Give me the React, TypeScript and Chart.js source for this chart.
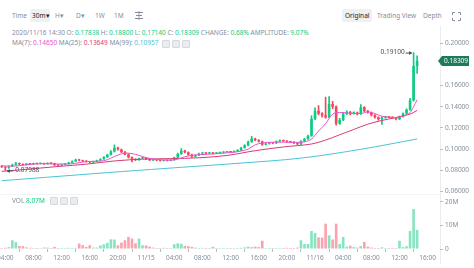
import React, { useEffect, useRef } from 'react';
import { Chart, registerables } from 'chart.js';

Chart.register(...registerables);

// ---- categories: 30-minute slots starting 2020/11/14 03:30 ----
const START_DAY = 14;
const START_MINUTE = 3 * 60 + 30;
const SLOT_MINUTES = 30;
const SLOT_COUNT = 125;
const pad2 = (n: number) => (n < 10 ? '0' + n : '' + n);
const timeLabels: string[] = [];
for (let k = 0; k < SLOT_COUNT; k++) {
  const t = START_MINUTE + k * SLOT_MINUTES;
  const d = START_DAY + Math.floor(t / 1440);
  const m = t % 1440;
  timeLabels.push(`11/${d} ${pad2(Math.floor(m / 60))}:${pad2(m % 60)}`);
}

// ---- candle data ----
const opens = [
  0.0840, 0.0830, 0.0824, 0.0838, 0.0852, 0.0866, 0.0858, 0.0851, 0.0862, 0.0858,
  0.0864, 0.0861, 0.0866, 0.0859, 0.0868, 0.0865, 0.0850, 0.0846, 0.0855, 0.0861,
  0.0872, 0.0885, 0.0900, 0.0893, 0.0886, 0.0882, 0.0876, 0.0884, 0.0892, 0.0905,
  0.0924, 0.0946, 0.0978, 0.1012, 0.0996, 0.0972, 0.0950, 0.0922, 0.0905, 0.0898,
  0.0912, 0.0918, 0.0906, 0.0895, 0.0898, 0.0893, 0.0890, 0.0894, 0.0892, 0.0897,
  0.0920, 0.0955, 0.0985, 0.0970, 0.0948, 0.0930, 0.0942, 0.0958, 0.0963, 0.0960,
  0.0966, 0.0958, 0.0964, 0.0967, 0.0972, 0.0976, 0.0973, 0.0979, 0.0990, 0.1012,
  0.1035, 0.1068, 0.1098, 0.1085, 0.1072, 0.1042, 0.1050, 0.1058, 0.1055, 0.1072,
  0.1082, 0.1076, 0.1070, 0.1066, 0.1058, 0.1046, 0.1075, 0.1095, 0.1125, 0.1285,
  0.1360, 0.1335, 0.1318, 0.1300, 0.1425, 0.1400, 0.1240, 0.1275, 0.1335, 0.1350,
  0.1338, 0.1345, 0.1330, 0.1395, 0.1360, 0.1345, 0.1320, 0.1300, 0.1282, 0.1298,
  0.1305, 0.1302, 0.1296, 0.1282, 0.1305, 0.1335, 0.1372, 0.1460, 0.17838,
];
const closes = [
  0.0830, 0.0824, 0.0838, 0.0852, 0.0866, 0.0858, 0.0851, 0.0862, 0.0858, 0.0864,
  0.0861, 0.0866, 0.0859, 0.0868, 0.0865, 0.0850, 0.0846, 0.0855, 0.0861, 0.0872,
  0.0885, 0.0900, 0.0893, 0.0886, 0.0882, 0.0876, 0.0884, 0.0892, 0.0905, 0.0924,
  0.0946, 0.0978, 0.1012, 0.0996, 0.0972, 0.0950, 0.0922, 0.0905, 0.0898, 0.0912,
  0.0918, 0.0906, 0.0895, 0.0898, 0.0893, 0.0890, 0.0894, 0.0892, 0.0897, 0.0920,
  0.0955, 0.0985, 0.0970, 0.0948, 0.0930, 0.0942, 0.0958, 0.0963, 0.0960, 0.0966,
  0.0958, 0.0964, 0.0967, 0.0972, 0.0976, 0.0973, 0.0979, 0.0990, 0.1012, 0.1035,
  0.1068, 0.1098, 0.1085, 0.1072, 0.1042, 0.1050, 0.1058, 0.1055, 0.1072, 0.1082,
  0.1076, 0.1070, 0.1066, 0.1058, 0.1046, 0.1075, 0.1095, 0.1125, 0.1285, 0.1360,
  0.1335, 0.1318, 0.1300, 0.1425, 0.1400, 0.1240, 0.1275, 0.1335, 0.1350, 0.1338,
  0.1345, 0.1330, 0.1395, 0.1360, 0.1345, 0.1320, 0.1300, 0.1282, 0.1298, 0.1305,
  0.1302, 0.1296, 0.1282, 0.1305, 0.1335, 0.1372, 0.1460, 0.17838, 0.18309,
];
const highs = [
  0.0845, 0.0834, 0.0842, 0.0858, 0.0874, 0.0870, 0.0862, 0.0866, 0.0866, 0.0868,
  0.0867, 0.0870, 0.0869, 0.0872, 0.0871, 0.0867, 0.0853, 0.0858, 0.0864, 0.0876,
  0.0889, 0.0906, 0.0904, 0.0896, 0.0890, 0.0885, 0.0887, 0.0896, 0.0909, 0.0929,
  0.0952, 0.0985, 0.1040, 0.1018, 0.1000, 0.0978, 0.0956, 0.0928, 0.0910, 0.0916,
  0.0924, 0.0921, 0.0909, 0.0902, 0.0901, 0.0896, 0.0897, 0.0897, 0.0900, 0.0925,
  0.0962, 0.1005, 0.0990, 0.0974, 0.0952, 0.0946, 0.0963, 0.0967, 0.0966, 0.0970,
  0.0969, 0.0968, 0.0971, 0.0976, 0.0980, 0.0979, 0.0983, 0.0995, 0.1017, 0.1042,
  0.1075, 0.1120, 0.1104, 0.1090, 0.1076, 0.1055, 0.1063, 0.1062, 0.1077, 0.1088,
  0.1086, 0.1080, 0.1074, 0.1070, 0.1062, 0.1080, 0.1101, 0.1131, 0.1315, 0.1390,
  0.1410, 0.1345, 0.1490, 0.1495, 0.1450, 0.1408, 0.1290, 0.1345, 0.1362, 0.1356,
  0.1352, 0.1350, 0.1420, 0.1400, 0.1366, 0.1350, 0.1325, 0.1305, 0.1303, 0.1310,
  0.1309, 0.1306, 0.1300, 0.1312, 0.1342, 0.1380, 0.1478, 0.1910, 0.1880,
];
const lows = [
  0.0826, 0.07988, 0.0818, 0.0834, 0.0848, 0.0852, 0.0846, 0.0848, 0.0854, 0.0855,
  0.0858, 0.0859, 0.0855, 0.0857, 0.0861, 0.0844, 0.0838, 0.0843, 0.0852, 0.0858,
  0.0869, 0.0882, 0.0888, 0.0881, 0.0877, 0.0871, 0.0873, 0.0881, 0.0889, 0.0902,
  0.0920, 0.0942, 0.0972, 0.0990, 0.0966, 0.0944, 0.0915, 0.0880, 0.0890, 0.0894,
  0.0908, 0.0901, 0.0890, 0.0891, 0.0889, 0.0885, 0.0887, 0.0888, 0.0889, 0.0894,
  0.0916, 0.0950, 0.0964, 0.0942, 0.0922, 0.0926, 0.0939, 0.0954, 0.0955, 0.0957,
  0.0953, 0.0955, 0.0961, 0.0963, 0.0968, 0.0969, 0.0970, 0.0975, 0.0986, 0.1008,
  0.1030, 0.1062, 0.1078, 0.1066, 0.1035, 0.1038, 0.1046, 0.1050, 0.1052, 0.1068,
  0.1071, 0.1066, 0.1061, 0.1052, 0.1038, 0.1042, 0.1070, 0.1090, 0.1120, 0.1278,
  0.1322, 0.1300, 0.1290, 0.1295, 0.1380, 0.1225, 0.1232, 0.1268, 0.1325, 0.1322,
  0.1330, 0.1322, 0.1326, 0.1352, 0.1338, 0.1312, 0.1292, 0.1272, 0.1232, 0.1290,
  0.1296, 0.1290, 0.1275, 0.1278, 0.1300, 0.1330, 0.1365, 0.1452, 0.1714,
];
// volume in millions
const volumes = [
  0.3, 0.5, 0.8, 3.7, 2.9, 1.3, 1.2, 0.7, 0.5, 0.2,
  0.1, 0.2, 0.6, 0.6, 0.2, 0.9, 0.3, 0.4, 0.3, 0.5,
  0.4, 0.3, 2.3, 1.6, 0.9, 1.6, 0.6, 0.6, 1.5, 2.0,
  2.6, 4.1, 4.0, 1.6, 2.7, 3.7, 5.1, 4.4, 2.4, 4.4,
  1.6, 1.5, 1.0, 0.6, 0.4, 0.3, 0.5, 0.3, 0.4, 2.0,
  2.4, 2.2, 1.3, 1.2, 0.9, 0.6, 0.4, 0.5, 0.3, 0.2,
  0.9, 0.2, 0.1, 0.3, 0.1, 0.2, 0.3, 0.2, 0.5, 0.7,
  1.0, 0.8, 1.0, 0.8, 3.5, 0.4, 0.2, 0.2, 0.1, 0.2,
  0.3, 0.5, 0.3, 0.4, 0.6, 3.7, 2.1, 2.1, 7.6, 6.8,
  4.9, 4.8, 10.7, 5.8, 4.0, 10.7, 2.1, 5.1, 1.0, 1.4,
  0.8, 0.6, 1.2, 3.0, 1.0, 0.6, 0.3, 0.3, 0.7, 0.3,
  0.3, 0.2, 0.2, 3.5, 0.8, 1.2, 7.6, 16.9, 8.07,
];

// moving-average lines: [slot index, value]
const ma7Points: [number, number][] = [
  [0, 0.0842], [4, 0.0840], [8, 0.0856], [12, 0.0862], [16, 0.0859], [20, 0.0862],
  [24, 0.0882], [28, 0.0886], [30, 0.0900], [32, 0.0930], [34, 0.0955], [36, 0.0962],
  [38, 0.0950], [40, 0.0930], [42, 0.0912], [44, 0.0903], [48, 0.0895], [50, 0.0905],
  [52, 0.0928], [55, 0.0945], [58, 0.0950], [62, 0.0960], [66, 0.0970], [68, 0.0982],
  [70, 0.1000], [72, 0.1040], [74, 0.1058], [77, 0.1065], [80, 0.1065], [84, 0.1064],
  [86, 0.1068], [88, 0.1095], [90, 0.1170], [92, 0.1240], [94, 0.1330], [96, 0.1345],
  [98, 0.1340], [100, 0.1335], [102, 0.1335], [104, 0.1350], [106, 0.1335], [108, 0.1310],
  [110, 0.1300], [112, 0.1298], [114, 0.1310], [116, 0.1345], [117, 0.1400], [118, 0.1465],
];
const ma25Points: [number, number][] = [
  [0, 0.0790], [8, 0.0812], [16, 0.0836], [24, 0.0858], [32, 0.0888], [40, 0.0905],
  [48, 0.0910], [56, 0.0918], [64, 0.0940], [72, 0.0985], [80, 0.1020], [88, 0.1048],
  [92, 0.1085], [96, 0.1135], [100, 0.1185], [104, 0.1235], [108, 0.1270], [112, 0.1298],
  [116, 0.1330], [118, 0.13649],
];
const ma99Points: [number, number][] = [
  [0, 0.0702], [17, 0.0745], [34, 0.0788], [51, 0.0828], [68, 0.0868], [85, 0.0915],
  [102, 0.0998], [118, 0.10957],
];

const priceTicks = [0.06, 0.08, 0.1, 0.12, 0.14, 0.16, 0.18, 0.2];
const volumeTicks = [0, 10, 20];

const UP = '#0ecb81';
const DOWN = '#f6465d';
const UP_VOL = 'rgba(14,203,129,0.5)';
const DOWN_VOL = 'rgba(246,70,93,0.5)';
const MA7_COLOR = '#e655cf';
const MA25_COLOR = '#d63a72';
const MA99_COLOR = '#4cc3d3';
const GRAY = '#848e9c';
const DARK = '#1e2329';
const FONT = '"Noto Sans", sans-serif';

const isUp = (i: number) => closes[i] >= opens[i];

function tickLabel(idx: number): string | null {
  const lab = timeLabels[idx];
  if (!lab) return null;
  const [date, time] = lab.split(' ');
  const [hh, mm] = time.split(':');
  const h = parseInt(hh, 10);
  if (mm !== '00' || h % 4 !== 0) return null;
  return h === 0 ? date : time;
}

const annotatePlugin = {
  id: 'annotate',
  afterDraw(chart: any) {
    const { ctx, scales } = chart;
    const xs = scales.x;
    const ys = scales.y;
    ctx.save();
    ctx.font = `6.5px ${FONT}`;
    ctx.textBaseline = 'middle';
    let hi = 0;
    highs.forEach((v, i) => { if (v > highs[hi]) hi = i; });
    let lo = 0;
    lows.forEach((v, i) => { if (v < lows[lo]) lo = i; });
    const hx = xs.getPixelForValue(hi);
    const hy = ys.getPixelForValue(highs[hi]);
    ctx.fillStyle = '#474d57';
    ctx.strokeStyle = '#474d57';
    ctx.lineWidth = 1;
    ctx.textAlign = 'right';
    ctx.fillText(highs[hi].toFixed(5), hx - 9, hy);
    ctx.beginPath();
    ctx.moveTo(hx - 8, hy + 0.5);
    ctx.lineTo(hx - 2, hy + 0.5);
    ctx.stroke();
    ctx.beginPath();
    ctx.moveTo(hx - 1.5, hy + 0.5);
    ctx.lineTo(hx - 4.5, hy - 1.5);
    ctx.lineTo(hx - 4.5, hy + 2.5);
    ctx.closePath();
    ctx.fill();
    const lx = xs.getPixelForValue(lo);
    const ly = ys.getPixelForValue(lows[lo]);
    ctx.textAlign = 'left';
    ctx.fillText(lows[lo].toFixed(5), lx + 10, ly);
    ctx.beginPath();
    ctx.moveTo(lx + 2, ly + 0.5);
    ctx.lineTo(lx + 8, ly + 0.5);
    ctx.stroke();
    ctx.beginPath();
    ctx.moveTo(lx + 1.5, ly + 0.5);
    ctx.lineTo(lx + 4.5, ly - 1.5);
    ctx.lineTo(lx + 4.5, ly + 2.5);
    ctx.closePath();
    ctx.fill();
    // current price tag on the axis
    const last = closes[closes.length - 1];
    const py = Math.round(ys.getPixelForValue(last));
    const left = chart.chartArea.right + 1;
    ctx.fillStyle = '#1d7a5c';
    ctx.beginPath();
    ctx.moveTo(left - 3, py);
    ctx.lineTo(left + 1, py - 5);
    ctx.lineTo(left + 28, py - 5);
    ctx.lineTo(left + 28, py + 5);
    ctx.lineTo(left + 1, py + 5);
    ctx.closePath();
    ctx.fill();
    ctx.fillStyle = '#ffffff';
    ctx.textAlign = 'left';
    ctx.fillText(last.toFixed(5), left + 3, py + 0.5);
    ctx.restore();
  },
};

function PriceChart() {
  const ref = useRef<HTMLCanvasElement>(null);
  useEffect(() => {
    const chart = new Chart(ref.current as HTMLCanvasElement, {
      type: 'bar',
      data: {
        labels: timeLabels,
        datasets: [
          {
            type: 'line',
            data: ma7Points.map(([i, v]) => ({ x: timeLabels[i], y: v })) as any,
            borderColor: MA7_COLOR,
            borderWidth: 1,
            pointRadius: 0,
            tension: 0.35,
            order: 0,
          },
          {
            type: 'line',
            data: ma25Points.map(([i, v]) => ({ x: timeLabels[i], y: v })) as any,
            borderColor: MA25_COLOR,
            borderWidth: 1,
            pointRadius: 0,
            tension: 0.35,
            order: 0,
          },
          {
            type: 'line',
            data: ma99Points.map(([i, v]) => ({ x: timeLabels[i], y: v })) as any,
            borderColor: MA99_COLOR,
            borderWidth: 1,
            pointRadius: 0,
            tension: 0.35,
            order: 0,
          },
          {
            type: 'bar',
            data: highs.map((h, i) => [lows[i], h]) as any,
            backgroundColor: highs.map((_, i) => (isUp(i) ? UP : DOWN)),
            barThickness: 1,
            grouped: false,
            order: 2,
          },
          {
            type: 'bar',
            data: opens.map((o, i) => [o, closes[i]]) as any,
            backgroundColor: opens.map((_, i) => (isUp(i) ? UP : DOWN)),
            barPercentage: 0.75,
            categoryPercentage: 1,
            minBarLength: 1,
            grouped: false,
            order: 1,
          },
        ],
      },
      options: {
        animation: false,
        responsive: false,
        devicePixelRatio: 1,
        layout: { padding: { top: 8, bottom: 8, left: 0, right: 0 } },
        plugins: { legend: { display: false }, tooltip: { enabled: false } },
        scales: {
          x: { type: 'category', display: false, offset: true },
          y: {
            position: 'right',
            min: 0.0567,
            max: 0.2123,
            afterBuildTicks: (s: any) => { s.ticks = priceTicks.map((v) => ({ value: v })); },
            afterFit: (s: any) => { s.width = 34; },
            grid: { drawOnChartArea: false, drawTicks: true, tickLength: 3, color: '#b7bdc6' },
            border: { display: false },
            ticks: {
              color: GRAY,
              font: { size: 6.5, family: FONT },
              padding: 2,
              callback: (v: any) => Number(v).toFixed(5),
            },
          },
        },
      } as any,
      plugins: [annotatePlugin],
    });
    return () => chart.destroy();
  }, []);
  return (
    <canvas
      ref={ref}
      width={474}
      height={181}
      style={{ position: 'absolute', left: 0, top: 22, width: 474, height: 181 }}
    />
  );
}

function VolumeChart() {
  const ref = useRef<HTMLCanvasElement>(null);
  useEffect(() => {
    const chart = new Chart(ref.current as HTMLCanvasElement, {
      type: 'bar',
      data: {
        labels: timeLabels,
        datasets: [
          {
            data: volumes,
            backgroundColor: volumes.map((_, i) => (isUp(i) ? UP_VOL : DOWN_VOL)),
            barPercentage: 0.75,
            categoryPercentage: 1,
            minBarLength: 1,
          },
        ],
      },
      options: {
        animation: false,
        responsive: false,
        devicePixelRatio: 1,
        layout: { padding: { top: 6, bottom: 0, left: 0, right: 0 } },
        plugins: { legend: { display: false }, tooltip: { enabled: false } },
        scales: {
          x: {
            type: 'category',
            offset: true,
            afterFit: (s: any) => {
              s.height = 19;
              s.paddingLeft = 0;
              s.paddingRight = 0;
            },
            grid: { drawOnChartArea: false, drawTicks: true, tickLength: 3, color: '#b7bdc6' },
            border: { display: false },
            ticks: {
              autoSkip: false,
              maxRotation: 0,
              color: GRAY,
              padding: 2,
              font: { size: 6.5, family: FONT },
              callback: (_v: any, idx: number) => tickLabel(idx),
            },
          },
          y: {
            position: 'right',
            min: 0,
            max: 22.4,
            afterBuildTicks: (s: any) => { s.ticks = volumeTicks.map((v) => ({ value: v })); },
            afterFit: (s: any) => { s.width = 34; },
            grid: { drawOnChartArea: false, drawTicks: true, tickLength: 3, color: '#b7bdc6' },
            border: { display: false },
            ticks: {
              color: GRAY,
              font: { size: 6.5, family: FONT },
              padding: 2,
              callback: (v: any) => (Number(v) === 0 ? '0' : `${v}M`),
            },
          },
        },
      } as any,
    });
    return () => chart.destroy();
  }, []);
  return (
    <canvas
      ref={ref}
      width={474}
      height={78}
      style={{ position: 'absolute', left: 0, top: 190, width: 474, height: 78 }}
    />
  );
}

const abs = (left: number, top: number, extra: React.CSSProperties = {}): React.CSSProperties => ({
  position: 'absolute',
  left,
  top,
  whiteSpace: 'nowrap',
  lineHeight: '9px',
  ...extra,
});

function SmallBox({ left, top }: { left: number; top: number }) {
  return (
    <div
      style={{
        position: 'absolute',
        left,
        top,
        width: 6,
        height: 6,
        background: '#eaecef',
        border: '0.5px solid #d5d8dc',
        borderRadius: 1,
      }}
    />
  );
}

export default function App() {
  const green = { color: UP };
  return (
    <div
      style={{
        position: 'fixed',
        left: 0,
        top: 0,
        width: 474,
        height: 268,
        background: '#ffffff',
        overflow: 'hidden',
        fontFamily: FONT,
        fontSize: '6.5px',
        color: GRAY,
      }}
    >
      {/* toolbar */}
      <div style={abs(12, 11)}>Time</div>
      <div style={abs(30, 9, { width: 20, height: 13, background: '#eef0f2', borderRadius: 2 })} />
      <div style={abs(32, 11, { color: DARK })}>30m▾</div>
      <div style={abs(55, 11)}>H▾</div>
      <div style={abs(76, 11)}>D▾</div>
      <div style={abs(95, 11)}>1W</div>
      <div style={abs(114, 11)}>1M</div>
      <svg style={{ position: 'absolute', left: 135, top: 11 }} width="8" height="9">
        <line x1="0" y1="1.5" x2="8" y2="1.5" stroke={GRAY} strokeWidth="1" />
        <line x1="1" y1="4.5" x2="7" y2="4.5" stroke={GRAY} strokeWidth="1" />
        <line x1="0" y1="7.5" x2="8" y2="7.5" stroke={GRAY} strokeWidth="1" />
        <line x1="4" y1="0" x2="4" y2="9" stroke={GRAY} strokeWidth="0.8" />
      </svg>

      <div style={abs(342, 9, { width: 30, height: 13, background: '#eef0f2', borderRadius: 2 })} />
      <div style={abs(345, 11, { color: DARK })}>Original</div>
      <div style={abs(377, 11)}>Trading View</div>
      <div style={abs(423, 11)}>Depth</div>
      <svg style={{ position: 'absolute', left: 452, top: 12 }} width="9" height="9">
        <path d="M0.5 3V0.5H3M6 0.5H8.5V3M8.5 6V8.5H6M3 8.5H0.5V6" stroke={GRAY} strokeWidth="1" fill="none" />
      </svg>

      {/* info lines */}
      <div style={abs(12, 28)}>
        2020/11/16 14:30 O: <span style={green}>0.17838</span> H: <span style={green}>0.18800</span> L:{' '}
        <span style={green}>0.17140</span> C: <span style={green}>0.18309</span> CHANGE:{' '}
        <span style={green}>0.68%</span> AMPLITUDE: <span style={green}>9.07%</span>
      </div>
      <div style={abs(12, 38)}>
        MA(7): <span style={{ color: MA7_COLOR }}>0.14650</span> MA(25):{' '}
        <span style={{ color: MA25_COLOR }}>0.13649</span> MA(99):{' '}
        <span style={{ color: MA99_COLOR }}>0.10957</span>
      </div>
      <SmallBox left={162} top={39.5} />
      <SmallBox left={172} top={39.5} />
      <SmallBox left={182} top={39.5} />

      {/* panel separators */}
      <div style={{ position: 'absolute', left: 440, top: 26, width: 1, height: 238, background: '#eaecef' }} />
      <div style={{ position: 'absolute', left: 0, top: 194, width: 440, height: 1, background: '#f2f3f5' }} />

      <PriceChart />
      <VolumeChart />

      {/* volume header */}
      <div style={abs(12, 196)}>
        VOL <span style={green}>8.07M</span>
      </div>
      <SmallBox left={50} top={197} />
      <SmallBox left={60} top={197} />
      <SmallBox left={70} top={197} />
    </div>
  );
}
